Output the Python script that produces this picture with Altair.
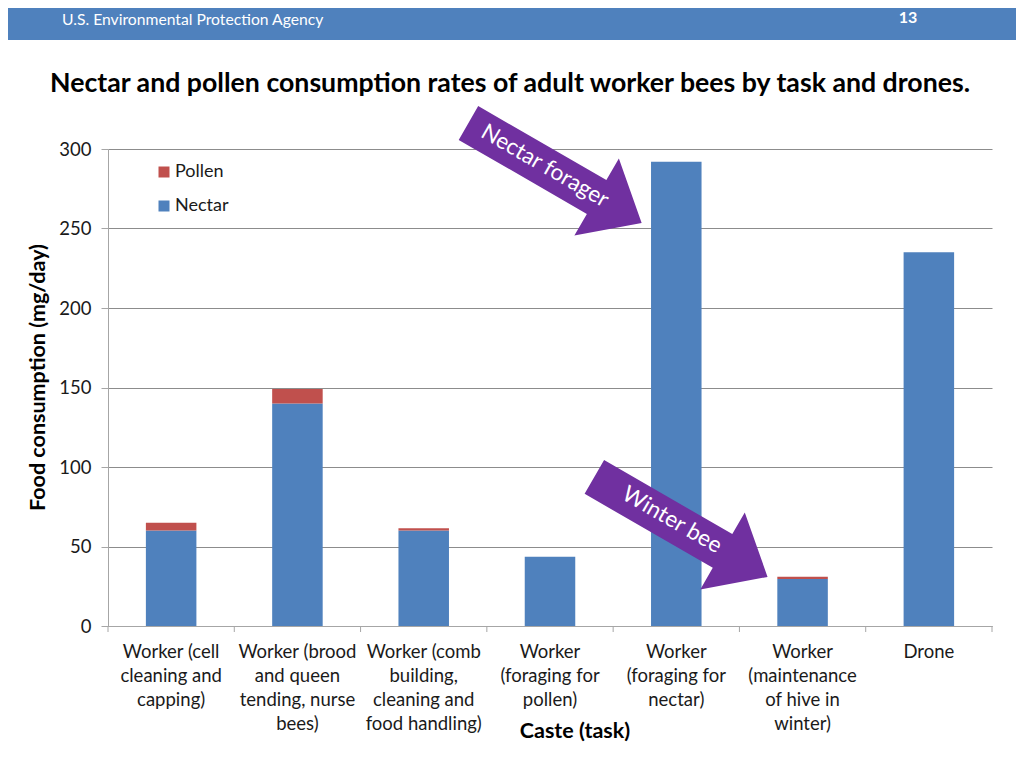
import altair as alt
import pandas as pd

FONT = "Lato"

# ---- data ----
categories = [
    "Worker (cell|cleaning and|capping)",
    "Worker (brood|and queen|tending, nurse|bees)",
    "Worker (comb|building,|cleaning and|food handling)",
    "Worker|(foraging for|pollen)",
    "Worker|(foraging for|nectar)",
    "Worker|(maintenance|of hive in|winter)",
    "Drone",
]
nectar = [60, 140, 60, 43.5, 292, 29.5, 235]
pollen = [5, 9, 1.5, 0, 0, 1.5, 0]
food_types = ["Pollen", "Nectar"]
food_colors = ["#c0504d", "#4f81bd"]
y_ticks = [0, 50, 100, 150, 200, 250, 300]
boundaries = [0, 1, 2, 3, 4, 5, 6, 7]

# annotation arrows (x in category-step units, y in mg/day)
arrow_labels = ["Nectar forager", "Winter bee"]
arrow_x = [3.54, 4.537]
arrow_y = [284.9, 62.3]
label_x = [3.46, 4.466]
label_y = [289.3, 66.7]

rows = []
for c, n, p in zip(categories, nectar, pollen):
    rows.append({"category": c, "type": "Nectar", "value": n, "order": 0})
    rows.append({"category": c, "type": "Pollen", "value": p, "order": 1})
df = pd.DataFrame(rows)
ticks_df = pd.DataFrame({"b": boundaries})
arrows_df = pd.DataFrame({"label": arrow_labels, "ax": arrow_x, "ay": arrow_y,
                          "lx": label_x, "ly": label_y})
one = pd.DataFrame({"a": [0]})

W, H = 884, 477
GRAY = "#a6a6a6"

y_enc = alt.Y(
    "value:Q",
    stack="zero",
    scale=alt.Scale(domain=[0, 300], nice=False),
    axis=alt.Axis(
        values=y_ticks,
        title="Food consumption (mg/day)",
        titleFont=FONT, titleFontSize=21.5, titleFontWeight="bold", titleColor="#000000",
        titleX=-70, titleY=228, titleBaseline="middle",
        labelFont=FONT, labelFontSize=18.5, labelColor="#1a1a1a", labelPadding=10,
        tickSize=7, tickColor=GRAY, domainColor=GRAY, gridColor="#8c8c8c",
    ),
)

bars = alt.Chart(df).mark_bar().encode(
    x=alt.X(
        "category:N",
        sort=categories,
        scale=alt.Scale(paddingInner=0.6, paddingOuter=0.3),
        axis=alt.Axis(
            title=None, labelExpr="split(datum.label, '|')", labelAngle=0,
            labelFont=FONT, labelFontSize=18.5, labelColor="#1a1a1a",
            labelLineHeight=24, labelBaseline="top", labelPadding=16,
            labelOverlap=False, labelLimit=0, ticks=False, domainColor=GRAY,
        ),
    ),
    y=y_enc,
    color=alt.Color(
        "type:N",
        scale=alt.Scale(domain=food_types, range=food_colors),
        legend=alt.Legend(
            title=None, orient="none", legendX=47, legendY=14,
            symbolType="square", symbolSize=121, symbolStrokeWidth=0,
            labelFont=FONT, labelFontSize=18, labelColor="#1a1a1a",
            rowPadding=16, labelOffset=2,
        ),
    ),
    order=alt.Order("order:Q", sort="ascending"),
)

qx = alt.Scale(domain=[0, 7], nice=False, zero=False)

tick_marks = alt.Chart(ticks_df).mark_rule(color=GRAY, strokeWidth=1).encode(
    x=alt.X("b:Q", scale=qx, axis=None),
    y=alt.value(H),
    y2=alt.value(H + 6),
)

ARROW = "M -1 -0.195 L 0.48 -0.195 L 0.48 -0.445 L 1 0 L 0.48 0.445 L 0.48 0.195 L -1 0.195 Z"
arrows = alt.Chart(arrows_df).mark_point(
    shape=ARROW, filled=True, size=40000, angle=30, color="#7030a0",
    opacity=1, strokeWidth=0,
).encode(
    x=alt.X("ax:Q", scale=qx, axis=None),
    y=alt.Y("ay:Q"),
)
arrow_text = alt.Chart(arrows_df).mark_text(
    font=FONT, fontSize=22.5, color="#ffffff", angle=30, align="center", baseline="middle",
).encode(
    x=alt.X("lx:Q", scale=qx, axis=None),
    y=alt.Y("ly:Q"),
    text="label:N",
)

header = alt.Chart(one).mark_rect(color="#4f81bd").encode(
    x=alt.value(-100), x2=alt.value(908), y=alt.value(-141), y2=alt.value(-109)
)
header_left = alt.Chart(one).mark_text(
    text="U.S. Environmental Protection Agency", font=FONT, fontSize=15.7,
    color="#ffffff", align="left", baseline="middle",
).encode(x=alt.value(-46), y=alt.value(-129))
header_right = alt.Chart(one).mark_text(
    text="13", font=FONT, fontSize=16, fontWeight="bold",
    color="#ffffff", align="center", baseline="middle",
).encode(x=alt.value(800), y=alt.value(-131))
title = alt.Chart(one).mark_text(
    text="Nectar and pollen consumption rates of adult worker bees by task and drones.",
    font=FONT, fontSize=26.7, fontWeight="bold", color="#000000",
    align="left", baseline="middle",
).encode(x=alt.value(-58), y=alt.value(-65))
x_title = alt.Chart(one).mark_text(
    text="Caste (task)", font=FONT, fontSize=21.5, fontWeight="bold", color="#000000",
    align="center", baseline="middle",
).encode(x=alt.value(467), y=alt.value(H + 106))

chart = alt.layer(
    header, header_left, header_right, title, bars, tick_marks, arrows, arrow_text, x_title
).resolve_scale(x="independent").properties(
    width=W, height=H,
    autosize=alt.AutoSizeParams(type="none"),
    padding={"left": 100, "top": 141, "right": 24, "bottom": 134},
    background="#ffffff",
).configure_view(strokeWidth=0)

chart.save("out.html", embed_options={"renderer": "svg", "actions": False})
